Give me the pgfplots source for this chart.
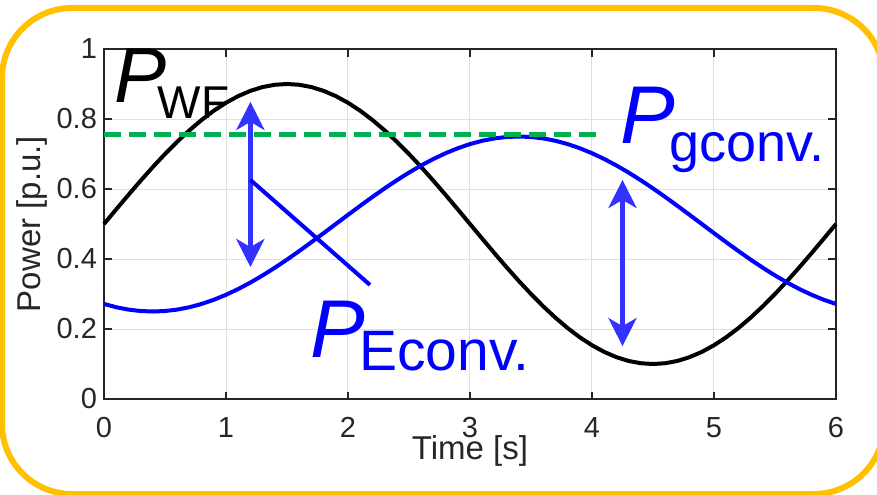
\documentclass[border=0pt]{standalone}
\usepackage{pgfplots}
\pgfplotsset{compat=1.18}
\usepackage{fontspec}
\setmainfont{Liberation Sans}
\usetikzlibrary{arrows.meta}
\definecolor{gold}{HTML}{FFC000}
\definecolor{mgreen}{HTML}{00B050}
\definecolor{ablue}{HTML}{3333FF}
\definecolor{pblue}{HTML}{0000FF}
\definecolor{axc}{HTML}{262626}
\begin{document}
\begin{tikzpicture}
\path[use as bounding box] (0,0) rectangle (438.5pt,247pt);
\begin{scope}
\clip (0,0) rectangle (438.5pt,247pt);
\draw[gold, line width=3pt, rounded corners=35pt] (1pt,0pt) rectangle (442pt,243pt);
\end{scope}
\begin{axis}[
  at={(52pt,47.5pt)}, anchor=south west,
  scale only axis, width=366pt, height=175pt,
  xmin=0, xmax=6, ymin=0, ymax=1,
  xtick={0,1,2,3,4,5,6},
  ytick={0,0.2,0.4,0.6,0.8,1},
  yticklabels={0,0.2,0.4,0.6,0.8,1},
  tick align=inside,
  major tick length=3.75pt,
  grid=major,
  major grid style={line width=0.5pt, draw=gray!25},
  axis line style={line width=1pt, draw=axc},
  every tick/.style={line width=1pt, draw=axc},
  /pgf/number format/assume math mode=true,
  tick label style={font=\fontsize{14.5}{14.5}\selectfont, text=axc},
  xticklabel style={inner sep=0pt, text depth=0pt, yshift=-9pt},
  xlabel={Time [s]},
  ylabel={Power [p.u.]},
  label style={font=\fontsize{16.5}{16.5}\selectfont, text=axc},
  xlabel style={at={(axis description cs:0.5,-0.172)}, anchor=base, inner sep=0pt},
  ylabel style={at={(axis description cs:-0.0874,0.5)}, anchor=base},
  clip=false,
]
% P_WF
\addplot[black, line width=2pt] coordinates {
(0,0.5)(0.1,0.54181)(0.2,0.58316)(0.3,0.62361)(0.4,0.66269)(0.5,0.7)(0.6,0.73511)(0.7,0.76765)(0.8,0.79726)(0.9,0.82361)
(1.0,0.84641)(1.1,0.86542)(1.2,0.88042)(1.3,0.89126)(1.4,0.89781)(1.5,0.9)(1.6,0.89781)(1.7,0.89126)(1.8,0.88042)(1.9,0.86542)
(2.0,0.84641)(2.1,0.82361)(2.2,0.79726)(2.3,0.76765)(2.4,0.73511)(2.5,0.7)(2.6,0.66269)(2.7,0.62361)(2.8,0.58316)(2.9,0.54181)
(3.0,0.5)(3.1,0.45819)(3.2,0.41684)(3.3,0.37639)(3.4,0.33731)(3.5,0.3)(3.6,0.26489)(3.7,0.23235)(3.8,0.20274)(3.9,0.17639)
(4.0,0.15359)(4.1,0.13458)(4.2,0.11958)(4.3,0.10874)(4.4,0.10219)(4.5,0.1)(4.6,0.10219)(4.7,0.10874)(4.8,0.11958)(4.9,0.13458)
(5.0,0.15359)(5.1,0.17639)(5.2,0.20274)(5.3,0.23235)(5.4,0.26489)(5.5,0.3)(5.6,0.33731)(5.7,0.37639)(5.8,0.41684)(5.9,0.45819)
(6.0,0.5)};
% P_gconv
\addplot[pblue, line width=2pt] coordinates {
(0,0.27161)(0.1,0.26224)(0.2,0.25546)(0.3,0.25137)(0.4,0.25)(0.5,0.25137)(0.6,0.25546)(0.7,0.26224)(0.8,0.27161)(0.9,0.28349)
(1.0,0.29775)(1.1,0.31421)(1.2,0.33272)(1.3,0.35305)(1.4,0.375)(1.5,0.39832)(1.6,0.42275)(1.7,0.44802)(1.8,0.47387)(1.9,0.5)
(2.0,0.52613)(2.1,0.55198)(2.2,0.57725)(2.3,0.60168)(2.4,0.625)(2.5,0.64695)(2.6,0.66728)(2.7,0.68579)(2.8,0.70225)(2.9,0.71651)
(3.0,0.72839)(3.1,0.73776)(3.2,0.74454)(3.3,0.74863)(3.4,0.75)(3.5,0.74863)(3.6,0.74454)(3.7,0.73776)(3.8,0.72839)(3.9,0.71651)
(4.0,0.70225)(4.1,0.68579)(4.2,0.66728)(4.3,0.64695)(4.4,0.625)(4.5,0.60168)(4.6,0.57725)(4.7,0.55198)(4.8,0.52613)(4.9,0.5)
(5.0,0.47387)(5.1,0.44802)(5.2,0.42275)(5.3,0.39832)(5.4,0.375)(5.5,0.35305)(5.6,0.33272)(5.7,0.31421)(5.8,0.29775)(5.9,0.28349)
(6.0,0.27161)};
% green dashed level
\addplot[mgreen, line width=2.5pt, dash pattern=on 8.5pt off 4pt] coordinates {(0,0.757)(4.07,0.757)};
% arrows
\draw[ablue, line width=2.5pt, {Stealth[length=14pt,width=14pt,inset=4pt]}-{Stealth[length=14pt,width=14pt,inset=4pt]}]
  (axis cs:1.2,0.377) -- (axis cs:1.2,0.849);
\draw[ablue, line width=2.5pt, {Stealth[length=14pt,width=14pt,inset=4pt]}-{Stealth[length=14pt,width=14pt,inset=4pt]}]
  (axis cs:4.25,0.151) -- (axis cs:4.25,0.626);
% leader line
\addplot[pblue, line width=2pt] coordinates {(1.2,0.626)(2.18,0.326)};
% labels
\node[anchor=base west, inner sep=0pt, text=black] at (axis cs:0.085,0.846)
  {{\fontsize{39}{39}\selectfont\itshape P}\kern-4.5pt\raisebox{-8pt}{\fontsize{23}{23}\selectfont WF}};
\node[anchor=base west, inner sep=0pt, text=pblue] at (axis cs:4.23,0.731)
  {{\fontsize{41}{41}\selectfont\itshape P}\kern-3pt\raisebox{-9pt}{\fontsize{27}{27}\selectfont gconv.}};
\node[anchor=base west, inner sep=0pt, text=pblue] at (axis cs:1.689,0.12)
  {{\fontsize{41}{41}\selectfont\itshape P}\kern-3pt\raisebox{-6.5pt}{\fontsize{28.5}{28.5}\selectfont Econv.}};
\end{axis}
\end{tikzpicture}
\end{document}
